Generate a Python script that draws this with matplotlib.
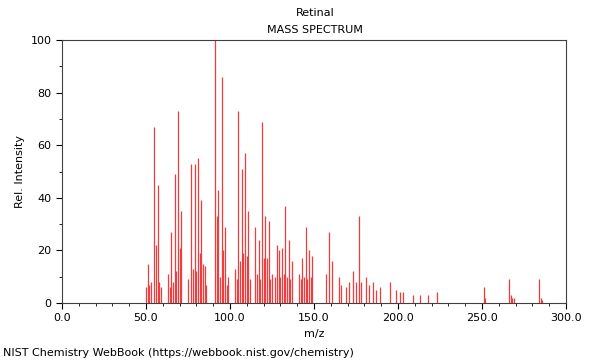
import matplotlib
matplotlib.use("Agg")
import matplotlib.pyplot as plt
from matplotlib.ticker import MultipleLocator

# m/z and relative intensity
mz = [50, 51, 52, 53, 55, 56, 57, 58, 59,
      63, 64, 65, 66, 67, 68, 69, 70, 71,
      75, 77, 78, 79, 80, 81, 82, 83, 84, 85, 86,
      91, 92, 93, 94, 95, 96, 97, 98, 99,
      103, 104, 105, 106, 107, 108, 109, 110, 111, 112,
      115, 116, 117, 118, 119, 120, 121, 122, 123, 124, 125,
      127, 128, 129, 130, 131, 132, 133, 134, 135, 136, 137,
      141, 142, 143, 144, 145, 146, 147, 148, 149,
      157, 159, 161, 165, 166, 169, 171, 173, 175, 177, 178,
      181, 183, 185, 187, 189, 195, 199, 201, 203, 209, 213, 218, 223,
      251, 252, 266, 267, 268, 269, 284, 285, 286]
intensity = [6, 15, 7, 8, 67, 22, 45, 8, 6,
             11, 6, 27, 8, 49, 12, 73, 21, 35,
             9, 53, 13, 53, 12, 55, 19, 39, 15, 14, 7,
             100, 33, 43, 10, 86, 20, 29, 7, 10,
             13, 9, 73, 16, 51, 19, 57, 18, 35, 9,
             29, 11, 24, 9, 69, 17, 33, 17, 31, 9, 11,
             10, 22, 20, 10, 21, 11, 37, 10, 24, 9, 16,
             11, 9, 17, 10, 29, 9, 20, 10, 18,
             11, 27, 16, 10, 7, 6, 8, 12, 8, 33, 8,
             10, 7, 8, 5, 6, 8, 5, 4, 4, 3, 3, 3, 4,
             6, 2, 9, 3, 2, 2, 9, 2, 1]

fig = plt.figure(figsize=(6, 3.6), dpi=100)
ax = fig.add_axes([62/600, 1-303/360, (566-62)/600, (303-40)/360])

ax.vlines(mz, 0, intensity, colors="#f03c3c", linewidth=0.9)

ax.set_xlim(0, 300)
ax.set_ylim(0, 100)
ax.xaxis.set_major_locator(MultipleLocator(50))
ax.xaxis.set_minor_locator(MultipleLocator(10))
ax.yaxis.set_major_locator(MultipleLocator(20))
ax.yaxis.set_minor_locator(MultipleLocator(10))
ax.tick_params(which="major", length=4, labelsize=8)
ax.tick_params(which="minor", length=2)
ax.xaxis.set_major_formatter(plt.FormatStrFormatter("%.1f"))
for s in ax.spines.values():
    s.set_color("#404040")

ax.set_xlabel("m/z", fontsize=8)
ax.set_ylabel("Rel. Intensity", fontsize=8)
fig.text(0.525, 1-13/360, "Retinal", ha="center", va="center", fontsize=8)
fig.text(0.525, 1-30/360, "MASS SPECTRUM", ha="center", va="center", fontsize=8)
fig.text(3/600, 1-353/360, "NIST Chemistry WebBook (https://webbook.nist.gov/chemistry)",
         ha="left", va="center", fontsize=8)

fig.savefig("out.png", dpi=100)
